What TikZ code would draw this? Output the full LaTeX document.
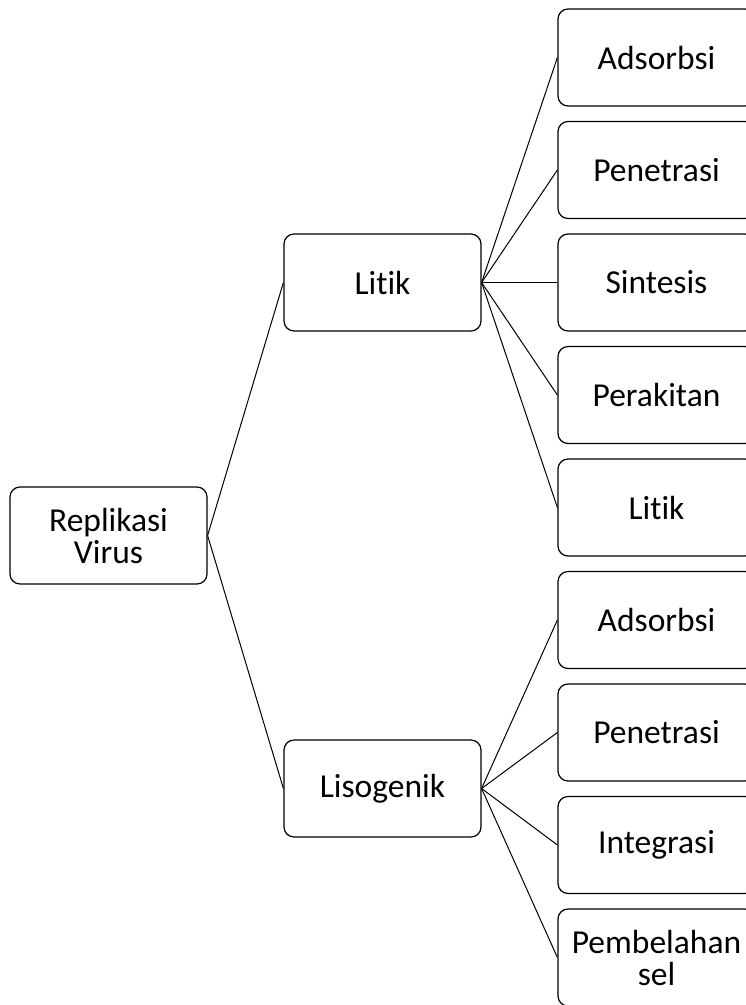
\documentclass[tikz,border=0pt]{standalone}
\usepackage{fontspec}
\setmainfont{Carlito}[Ligatures=NoCommon]
\tikzset{box/.style={draw=black, rounded corners=10pt, line width=1.2pt, minimum width=197pt, minimum height=97pt, align=center, font=\fontsize{33.5}{32}\selectfont},
  link/.style={line width=1pt}}
\begin{document}
\begin{tikzpicture}[x=1pt, y=-1pt]
        \useasboundingbox (0,0) rectangle (746,1005);
        \clip (0,0) rectangle (746,1005);
        \node[box] (rv) at (108.5,535.5) {Replikasi\\Virus};
        \node[box] (lt) at (382.5,282.5) {Litik};
        \node[box] (ls) at (382.5,788.5) {Lisogenik};
        \draw[link] (rv.east) -- (lt.west);
        \draw[link] (rv.east) -- (ls.west);
        \foreach \t [count=\i] in {Adsorbsi,Penetrasi,Sintesis,Perakitan,Litik}{
            \node[box] (a\i) at (656.5, {57.5+112.5*(\i-1)}) {\t};
            \draw[link] (lt.east) -- (a\i.west);
        }
        \foreach \t [count=\i] in {Adsorbsi,Penetrasi,Integrasi,{Pembelahan\\sel}}{
            \node[box] (b\i) at (656.5, {620+112.5*(\i-1)}) {\t};
            \draw[link] (ls.east) -- (b\i.west);
        }
    \end{tikzpicture}
\end{document}
